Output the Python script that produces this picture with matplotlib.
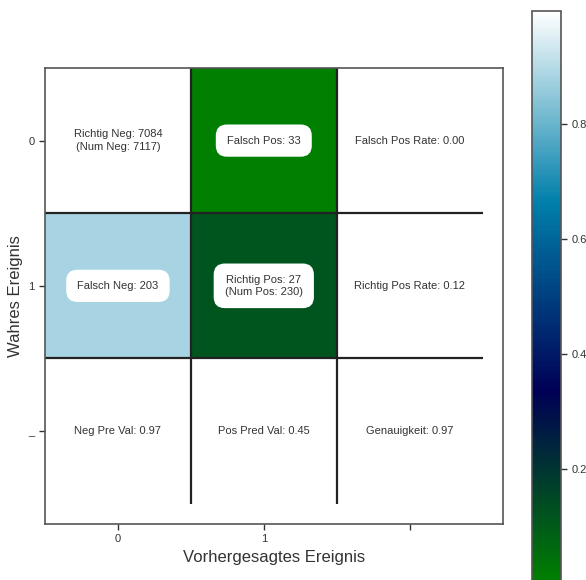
import numpy as np
import matplotlib
matplotlib.use("Agg")
import matplotlib.pyplot as plt

plt.rcParams['font.family'] = ['Liberation Sans', 'DejaVu Sans']

tn, fp, fn, tp = 7084, 33, 203, 27
num_neg, num_pos = 7117, 230
fpr, tpr = 0.00, 0.12
npv, ppv, acc = 0.97, 0.45, 0.97

x_ticklabels = ["0", "1", ""]
y_ticklabels = ["0", "1", "_"]

vals = np.full((3, 3), np.nan)
vals[0, 0] = tn / num_neg
vals[0, 1] = fp / num_neg
vals[1, 0] = fn / num_pos
vals[1, 1] = tp / num_pos

texts = [
    [f"Richtig Neg: {tn}\n(Num Neg: {num_neg})", f"Falsch Pos: {fp}", f"Falsch Pos Rate: {fpr:.2f}"],
    [f"Falsch Neg: {fn}", f"Richtig Pos: {tp}\n(Num Pos: {num_pos})", f"Richtig Pos Rate: {tpr:.2f}"],
    [f"Neg Pre Val: {npv:.2f}", f"Pos Pred Val: {ppv:.2f}", f"Genauigkeit: {acc:.2f}"],
]
boxed = {(0, 1), (1, 0), (1, 1)}

W, H = 586, 580
fig = plt.figure(figsize=(W / 100, H / 100), dpi=100)
ax = fig.add_axes([45 / W, (H - 524) / H, 458 / W, 456 / H])
cax = fig.add_axes([532 / W, (H - 582) / H, 29 / W, 571 / H])

im = ax.imshow(vals, cmap="ocean", aspect="auto",
               vmin=np.nanmin(vals), vmax=np.nanmax(vals))
ax.set_xlim(-0.5, 2.64)
ax.set_ylim(2.64, -0.5)

tc = "#333333"
for i in range(3):
    for j in range(3):
        kw = dict(ha="center", va="center", fontsize=8, color=tc, linespacing=1.3)
        if (i, j) in boxed:
            kw["bbox"] = dict(boxstyle="round,pad=1", fc="white", ec="none")
        ax.text(j, i, texts[i][j], **kw)

lc = "#222222"
for k in (0.5, 1.5):
    ax.plot([-0.5, 2.5], [k, k], color=lc, lw=1.6, solid_capstyle="butt")
    ax.plot([k, k], [-0.5, 2.5], color=lc, lw=1.6, solid_capstyle="butt")

ax.set_xticks([0, 1, 2])
ax.set_xticklabels(x_ticklabels)
ax.set_yticks([0, 1, 2])
ax.set_yticklabels(y_ticklabels)
ax.get_yticklabels()[2].set_color("#e6e6e6")
ax.tick_params(labelsize=8, colors=tc, length=4, width=1)
for s in ax.spines.values():
    s.set_color("#555555")
    s.set_linewidth(1.2)
ax.set_xlabel("Vorhergesagtes Ereignis", fontsize=12, color=tc)
ax.set_ylabel("Wahres Ereignis", fontsize=12, color=tc)

cb = fig.colorbar(im, cax=cax)
cb.set_ticks([0.2, 0.4, 0.6, 0.8])
cb.ax.tick_params(labelsize=8, colors=tc, length=4, width=1)
cb.outline.set_edgecolor("#555555")
cb.outline.set_linewidth(1.2)

fig.savefig("out.png", dpi=100)
